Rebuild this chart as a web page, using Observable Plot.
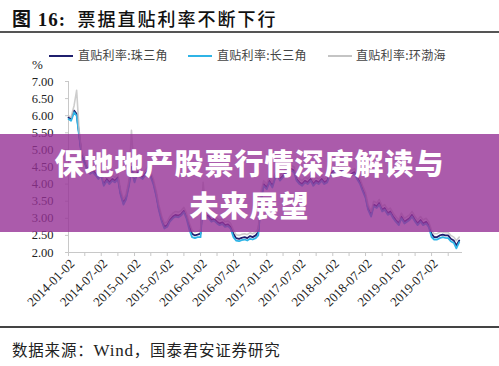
<!DOCTYPE html>
<html>
<head>
<meta charset="utf-8">
<script src="https://cdn.jsdelivr.net/npm/d3@7"></script>
<script src="https://cdn.jsdelivr.net/npm/@observablehq/plot@0.6"></script>
<style>
  html, body { margin: 0; padding: 0; background: #fff; }
  #wrap { position: relative; width: 499px; height: 366px; overflow: hidden; background: #fff; }
  .abs { position: absolute; white-space: nowrap; }
  #title { left: 12px; top: 4px; font-family: "Liberation Serif", "Noto Sans CJK SC", serif; font-weight: bold; font-size: 19px; color: #111; letter-spacing: 1px; }
  #title .cn { font-family: "Noto Sans CJK SC", sans-serif; font-weight: 500; font-size: 18px; letter-spacing: 2px; }
  .hr { position: absolute; left: 0; width: 499px; height: 1.5px; background: #555; }
  .sw { position: absolute; height: 2px; top: 55px; }
  .lt { position: absolute; top: 46px; font-family: "Noto Sans CJK SC", sans-serif; font-size: 12px; color: #444; letter-spacing: 0.3px; }
  #pct { left: 32px; top: 57px; font-family: "Liberation Serif", serif; font-size: 13px; color: #222; }
  #chart { position: absolute; left: 0; top: 58px; }
  #banner { position: absolute; left: 0; top: 134px; width: 499px; height: 98px; background: rgba(150,50,150,0.8); }
  .bt { position: absolute; left: 0; width: 499px; text-align: center; font-family: "Noto Sans CJK SC", sans-serif; font-weight: 900; font-size: 29px; color: #fff; letter-spacing: 1px; }
  #source { left: 12px; top: 338px; font-family: "Noto Sans CJK SC", "Liberation Serif", sans-serif; font-size: 15.5px; color: #222; letter-spacing: 0.8px; }
  #source .en { font-family: "Liberation Serif", serif; font-size: 17px; }
</style>
</head>
<body>
<div id="wrap">
  <div id="title" class="abs">图 16:&nbsp;&nbsp;<span class="cn">票据直贴利率不断下行</span></div>
  <div class="hr" style="top:31px"></div>
  <div id="legendbox"></div>
  <div id="pct" class="abs">%</div>
  <div id="chart"></div>
  <div class="hr" style="top:326px; background:#444"></div>
  <div id="source" class="abs">数据来源：<span class="en">Wind</span>，国泰君安证券研究</div>
  <div id="banner">
    <div class="bt" style="top:7px">保地地产股票行情深度解读与</div>
    <div class="bt" style="top:49px">未来展望</div>
  </div>
</div>
<script>
// ---- data (semi-monthly observations, 2014-01 .. 2019-12) ----
const seriesNames = ["直贴利率:珠三角", "直贴利率:长三角", "直贴利率:环渤海"];
const seriesColors = ["#1f1f6e", "#2fb4e6", "#c4c4c4"];

const zhusanjiao = [
  5.95,5.90,6.15,6.05,5.45,4.85,4.65,4.45,4.35,4.40,4.30,4.20,4.30,4.00,4.15,4.05,4.15,4.10,4.20,3.75,3.45,3.60,4.00,4.50,
  4.10,4.35,4.25,4.20,4.30,4.40,4.25,4.05,3.70,3.30,2.95,2.75,2.80,2.95,3.05,3.10,3.08,3.12,3.22,3.05,2.75,2.55,2.50,2.52,
  2.55,3.60,3.10,3.05,2.95,2.98,2.90,2.85,2.88,2.80,2.82,2.75,2.55,2.42,2.40,2.43,2.45,2.42,2.48,2.45,2.50,2.60,3.60,4.00,
  3.90,4.10,3.95,4.20,4.30,4.15,4.25,4.35,4.30,4.45,4.40,4.15,4.05,4.00,4.10,4.05,4.15,4.00,4.10,4.05,4.15,4.05,4.10,4.30,
  4.35,4.45,4.50,4.40,4.45,4.30,4.25,4.30,4.35,4.20,4.05,3.85,3.65,3.30,3.10,3.40,3.35,3.45,3.25,3.30,3.15,3.20,3.05,2.95,
  2.85,3.05,2.90,2.95,3.00,3.10,2.95,2.85,2.95,2.85,2.90,2.80,2.55,2.45,2.45,2.50,2.52,2.50,2.50,2.40,2.35,2.20,2.35
];
const changsanjiao = [
  5.90,5.85,6.10,6.00,5.40,4.80,4.60,4.40,4.30,4.35,4.25,4.15,4.25,3.95,4.10,4.00,4.10,4.05,4.15,3.70,3.40,3.55,3.95,4.40,
  4.05,4.30,4.20,4.15,4.25,4.35,4.20,4.00,3.65,3.25,2.90,2.70,2.75,2.90,3.00,3.05,3.03,3.08,3.18,3.00,2.65,2.45,2.42,2.45,
  2.45,3.55,3.05,3.00,2.90,2.93,2.85,2.80,2.83,2.75,2.77,2.70,2.45,2.35,2.33,2.36,2.38,2.35,2.40,2.38,2.42,2.50,3.55,3.95,
  3.85,4.05,3.90,4.15,4.25,4.10,4.20,4.30,4.25,4.40,4.35,4.10,4.00,3.95,4.05,4.00,4.10,3.95,4.05,4.00,4.10,4.00,4.05,4.25,
  4.30,4.40,4.45,4.35,4.40,4.25,4.20,4.25,4.30,4.15,4.00,3.80,3.60,3.25,3.05,3.35,3.30,3.40,3.20,3.25,3.10,3.15,3.00,2.90,
  2.80,3.00,2.85,2.90,2.95,3.05,2.90,2.80,2.90,2.80,2.85,2.75,2.45,2.38,2.38,2.42,2.45,2.43,2.42,2.33,2.28,2.12,2.30
];
const huanbohai = [
  6.00,5.95,6.30,6.74,5.55,4.95,4.75,4.55,4.45,4.50,4.40,4.30,4.40,4.10,4.25,4.15,4.25,4.20,4.30,3.85,3.55,3.70,4.10,5.57,
  4.20,4.45,4.35,4.30,4.40,4.50,4.35,4.15,3.80,3.40,3.05,2.85,2.90,3.05,3.15,3.20,3.18,3.22,3.32,3.15,2.85,2.65,2.60,2.62,
  2.65,4.05,3.20,3.15,3.05,3.08,3.00,2.95,2.98,2.90,2.92,2.85,2.65,2.52,2.50,2.53,2.55,2.52,2.58,2.55,2.60,2.70,3.80,4.10,
  4.00,4.20,4.05,4.30,4.40,4.25,4.35,4.45,4.40,4.55,4.50,4.25,4.15,4.10,4.20,4.15,4.25,4.10,4.20,4.15,4.25,4.15,4.20,4.40,
  4.45,4.55,4.60,4.50,4.55,4.40,4.35,4.40,4.45,4.30,4.15,3.95,3.75,3.40,3.20,3.50,3.45,3.55,3.35,3.40,3.25,3.30,3.15,3.05,
  2.95,3.15,3.00,3.05,3.10,3.20,3.05,2.95,3.05,2.95,3.00,2.90,2.65,2.55,2.55,2.60,2.60,2.58,2.58,2.50,2.45,2.35,2.45
];

const xTickLabels = ["2014-01-02","2014-07-02","2015-01-02","2015-07-02","2016-01-02","2016-07-02",
                     "2017-01-02","2017-07-02","2018-01-02","2018-07-02","2019-01-02","2019-07-02"];
const xMinorTicks = ["2014-01-02","2014-04-02","2014-07-02","2014-10-02","2015-01-02","2015-04-02","2015-07-02","2015-10-02",
                     "2016-01-02","2016-04-02","2016-07-02","2016-10-02","2017-01-02","2017-04-02","2017-07-02","2017-10-02",
                     "2018-01-02","2018-04-02","2018-07-02","2018-10-02","2019-01-02","2019-04-02","2019-07-02","2019-10-02"];
const yTicks = [2.0, 2.5, 3.0, 3.5, 4.0, 4.5, 5.0, 5.5, 6.0, 6.5, 7.0];

// ---- build table ----
const parse = d3.utcParse("%Y-%m-%d");
const dates = [];
for (let y = 2014; y <= 2019; y++) {
  for (let m = 0; m < 12; m++) {
    dates.push(new Date(Date.UTC(y, m, 2)));
    dates.push(new Date(Date.UTC(y, m, 16)));
  }
}
const allSeries = [zhusanjiao, changsanjiao, huanbohai];
const rows = [];
allSeries.forEach((vals, s) => vals.forEach((v, i) => rows.push({date: dates[i], value: v, series: seriesNames[s]})));

// ---- legend ----
const legendPos = [[49, 78], [188, 217], [328, 356]];
const lb = document.getElementById("legendbox");
seriesNames.forEach((n, i) => {
  const sw = document.createElement("div");
  sw.className = "sw"; sw.style.left = legendPos[i][0] + "px"; sw.style.width = "24px"; sw.style.background = seriesColors[i];
  lb.appendChild(sw);
  const t = document.createElement("div");
  t.className = "lt"; t.style.left = legendPos[i][1] + "px"; t.textContent = n;
  lb.appendChild(t);
});

// ---- chart ----
const fmt = d3.utcFormat("%Y-%m-%d");
const x0 = parse("2014-01-02"), x1 = parse("2019-12-20");
const chart = Plot.plot({
  width: 499,
  height: 265,
  marginLeft: 68,
  marginRight: 37,
  marginTop: 23,
  marginBottom: 71,
  style: {fontFamily: "Liberation Serif, serif", fontSize: "12px", background: "transparent", color: "#222"},
  x: {type: "utc", domain: [x0, x1]},
  y: {domain: [2, 7]},
  color: {domain: seriesNames, range: seriesColors},
  marks: [
    Plot.ruleX([x0], {stroke: "#c8c8c8"}),
    Plot.ruleY([2], {stroke: "#c8c8c8"}),
    Plot.axisY({ticks: yTicks, tickSize: 3, tickPadding: 12, stroke: "#c8c8c8", tickFormat: d => d.toFixed(2), label: null, fontSize: 12.5}),
    Plot.axisX({ticks: xMinorTicks.map(parse), tickSize: 4, stroke: "#c8c8c8", tickFormat: () => "", label: null}),
    Plot.axisX({ticks: xTickLabels.map(parse), tickSize: 0, tickPadding: 9, dx: 4, tickRotate: -45, tickFormat: fmt, label: null, fontSize: 13}),
    Plot.line(rows.filter(r => r.series === seriesNames[0]), {x: "date", y: "value", stroke: seriesColors[0], strokeWidth: 1.8}),
    Plot.line(rows.filter(r => r.series === seriesNames[1]), {x: "date", y: "value", stroke: seriesColors[1], strokeWidth: 1.8}),
    Plot.line(rows.filter(r => r.series === seriesNames[2]), {x: "date", y: "value", stroke: seriesColors[2], strokeWidth: 1.6, strokeOpacity: 0.85})
  ]
});
document.getElementById("chart").appendChild(chart);
</script>
</body>
</html>
